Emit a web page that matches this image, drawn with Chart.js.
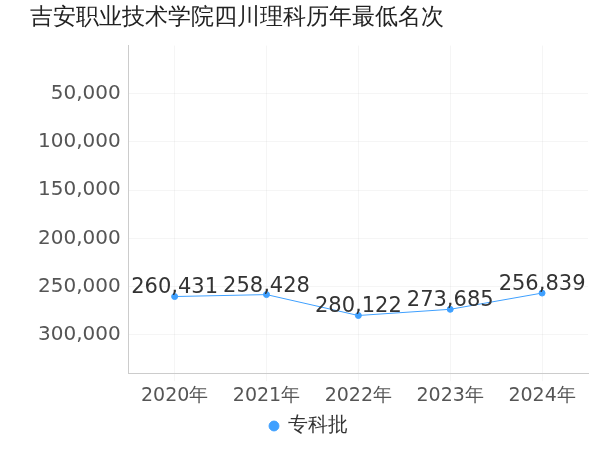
<!DOCTYPE html>
<html>
<head>
<meta charset="utf-8">
<script src="https://cdn.jsdelivr.net/npm/chart.js@4"></script>
<style>
  body { margin: 0; background: #fff; }
  #wrap { width: 600px; height: 450px; }
</style>
</head>
<body>
<div id="wrap"><canvas id="c"></canvas></div>
<script>
// Chart data
const years = ['2020年', '2021年', '2022年', '2023年', '2024年'];
const ranks = [260431, 258428, 280122, 273685, 256839];
const yTicks = [50000, 100000, 150000, 200000, 250000, 300000];
const seriesName = '专科批';
const titleText = '吉安职业技术学院四川理科历年最低名次';

const blue = '#3fa0ff';
const fam = '"DejaVu Sans", sans-serif';

// Draw value labels above each point
const valueLabels = {
    id: 'valueLabels',
    afterDatasetsDraw(chart) {
        const ctx = chart.ctx;
        const meta = chart.getDatasetMeta(0);
        ctx.save();
        ctx.font = '21px ' + fam;
        ctx.fillStyle = '#333';
        ctx.textAlign = 'center';
        ctx.textBaseline = 'bottom';
        meta.data.forEach((pt, i) => {
            ctx.fillText(ranks[i].toLocaleString('en-US'), pt.x, pt.y + 2);
        });
        ctx.restore();
    }
};

new Chart(document.getElementById('c'), {
    type: 'line',
    data: {
        labels: years,
        datasets: [{
            label: seriesName,
            data: ranks,
            borderColor: blue,
            backgroundColor: blue,
            borderWidth: 1,
            pointRadius: 3,
            pointHoverRadius: 3,
            tension: 0
        }]
    },
    options: {
        responsive: true,
        maintainAspectRatio: false,
        animation: false,
        layout: { padding: { left: 30, right: 12, top: 0, bottom: 4 } },
        scales: {
            y: {
                reverse: true,
                min: 0,
                max: 340000,
                afterBuildTicks: axis => { axis.ticks = yTicks.map(v => ({ value: v })); },
                ticks: {
                    autoSkip: false,
                    color: '#555',
                    padding: 8,
                    font: { size: 20, family: fam },
                    callback: v => v.toLocaleString('en-US')
                },
                grid: { color: 'rgba(0,0,0,0.04)', drawTicks: false },
                border: { color: '#ccc' }
            },
            x: {
                offset: true,
                ticks: {
                    color: '#555',
                    font: { size: 19, family: fam }
                },
                grid: { color: 'rgba(0,0,0,0.04)' },
                border: { color: '#ccc' }
            }
        },
        plugins: {
            title: {
                display: true,
                text: titleText,
                align: 'start',
                color: '#222',
                font: { size: 23, weight: 'normal', family: fam },
                padding: { left: 56, top: 4, bottom: 14 }
            },
            legend: {
                position: 'bottom',
                labels: {
                    usePointStyle: true,
                    pointStyle: 'circle',
                    boxWidth: 7,
                    boxHeight: 7,
                    color: '#333',
                    font: { size: 20, family: fam },
                    padding: 6
                }
            },
            tooltip: { enabled: false }
        }
    },
    plugins: [valueLabels]
});
</script>
</body>
</html>
